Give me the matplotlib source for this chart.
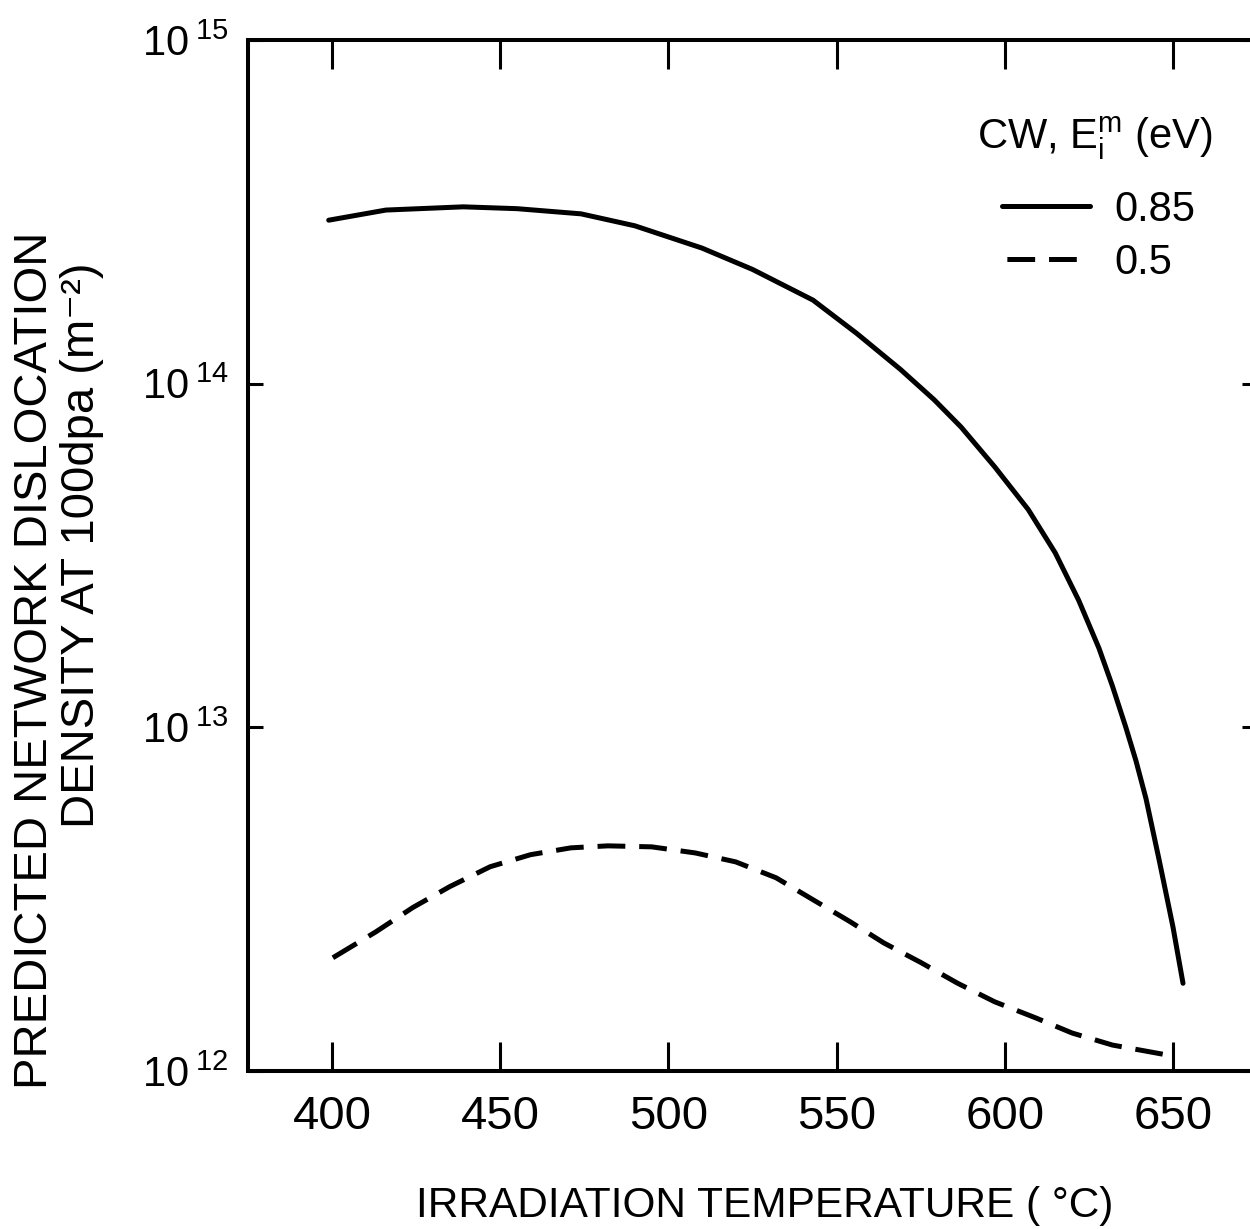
import math

import matplotlib
matplotlib.use("Agg")
import matplotlib.pyplot as plt
from matplotlib.ticker import FixedLocator, FuncFormatter, NullLocator

plt.rcParams['font.family'] = ['Liberation Sans', 'DejaVu Sans']
plt.rcParams['mathtext.fontset'] = 'custom'
plt.rcParams['mathtext.rm'] = 'Liberation Sans'
plt.rcParams['mathtext.it'] = 'Liberation Sans'
plt.rcParams['lines.scale_dashes'] = False

# CW, Ei_m = 0.85 eV (solid)
temp_085 = [399, 416, 439, 455, 474, 490, 510, 525, 543, 556, 569, 579,
            587, 597, 607, 615, 622, 628, 632, 636, 639, 642, 646, 650, 653]
rho_085 = [2.99e14, 3.20e14, 3.27e14, 3.23e14, 3.12e14, 2.88e14, 2.48e14,
           2.15e14, 1.75e14, 1.40e14, 1.10e14, 8.98e13, 7.48e13, 5.73e13,
           4.30e13, 3.22e13, 2.34e13, 1.70e13, 1.32e13, 1.00e13, 8.0e12,
           6.2e12, 4.07e12, 2.63e12, 1.80e12]

# CW, Ei_m = 0.5 eV (dashed)
temp_05 = [399, 413, 424, 435, 447, 459, 471, 482, 495, 508, 520, 532, 543,
           554, 564, 575, 586, 597, 609, 620, 632, 649]
rho_05 = [2.10e12, 2.54e12, 2.99e12, 3.44e12, 3.93e12, 4.26e12, 4.46e12,
          4.52e12, 4.49e12, 4.31e12, 4.06e12, 3.65e12, 3.15e12, 2.72e12,
          2.36e12, 2.07e12, 1.80e12, 1.59e12, 1.43e12, 1.29e12, 1.19e12,
          1.11e12]

x_ticks = [400, 450, 500, 550, 600, 650]
y_ticks = [1e12, 1e13, 1e14, 1e15]

fig = plt.figure(figsize=(12.5, 12.29), dpi=100)
ax = fig.add_axes([248 / 1250, 1 - 1071 / 1229, 1009 / 1250, 1031 / 1229])

ax.plot(temp_085, rho_085, color='black', lw=3.6, label='0.85',
        solid_capstyle='round')
ax.plot(temp_05, rho_05, color='black', lw=3.6, linestyle=(26.5, (20, 10)),
        label='0.5')

ax.set_yscale('log')
ax.set_xlim(375, 675)
ax.set_ylim(1e12, 1e15)

ax.xaxis.set_major_locator(FixedLocator(x_ticks))
ax.yaxis.set_major_locator(FixedLocator(y_ticks))
ax.yaxis.set_minor_locator(NullLocator())
ax.yaxis.set_major_formatter(FuncFormatter(
    lambda v, pos: r'$\mathregular{10^{\;%d}}$' % round(math.log10(v))))

ax.tick_params(axis='x', which='major', direction='in', top=True, length=21,
               width=2.2, pad=17, labelsize=34)
ax.tick_params(axis='y', which='major', direction='in', right=True, length=11,
               width=2.2, pad=14, labelsize=30)
for sp in ax.spines.values():
    sp.set_linewidth(2.9)

ax.set_xlabel('IRRADIATION TEMPERATURE ( \u00b0C)', fontsize=30.5)
ax.xaxis.set_label_coords(0.512, -0.112)

# two-line y label, each line placed on its own (they are not centred alike)
fig.text(47 / 1250, 1 - 660 / 1229, 'PREDICTED NETWORK DISLOCATION',
         rotation=90, rotation_mode='anchor', ha='center', va='baseline',
         fontsize=34)
fig.text(94 / 1250, 1 - 545 / 1229, 'DENSITY AT 100dpa (m\u207b\u00b2)',
         rotation=90, rotation_mode='anchor', ha='center', va='baseline',
         fontsize=34)

ax.text((1213 - 248) / 1009, (1071 - 148) / 1031, r'CW, $\mathregular{E_i^m}$ (eV)',
        transform=ax.transAxes, ha='right', va='baseline', fontsize=30)

ax.legend(loc='upper left', bbox_to_anchor=((1002 - 248) / 1009, (1071 - 190) / 1031),
          frameon=False, fontsize=30, borderpad=0, borderaxespad=0,
          handlelength=2.1, handletextpad=0.6, labelspacing=0.3)

fig.savefig('out.png', dpi=100)
